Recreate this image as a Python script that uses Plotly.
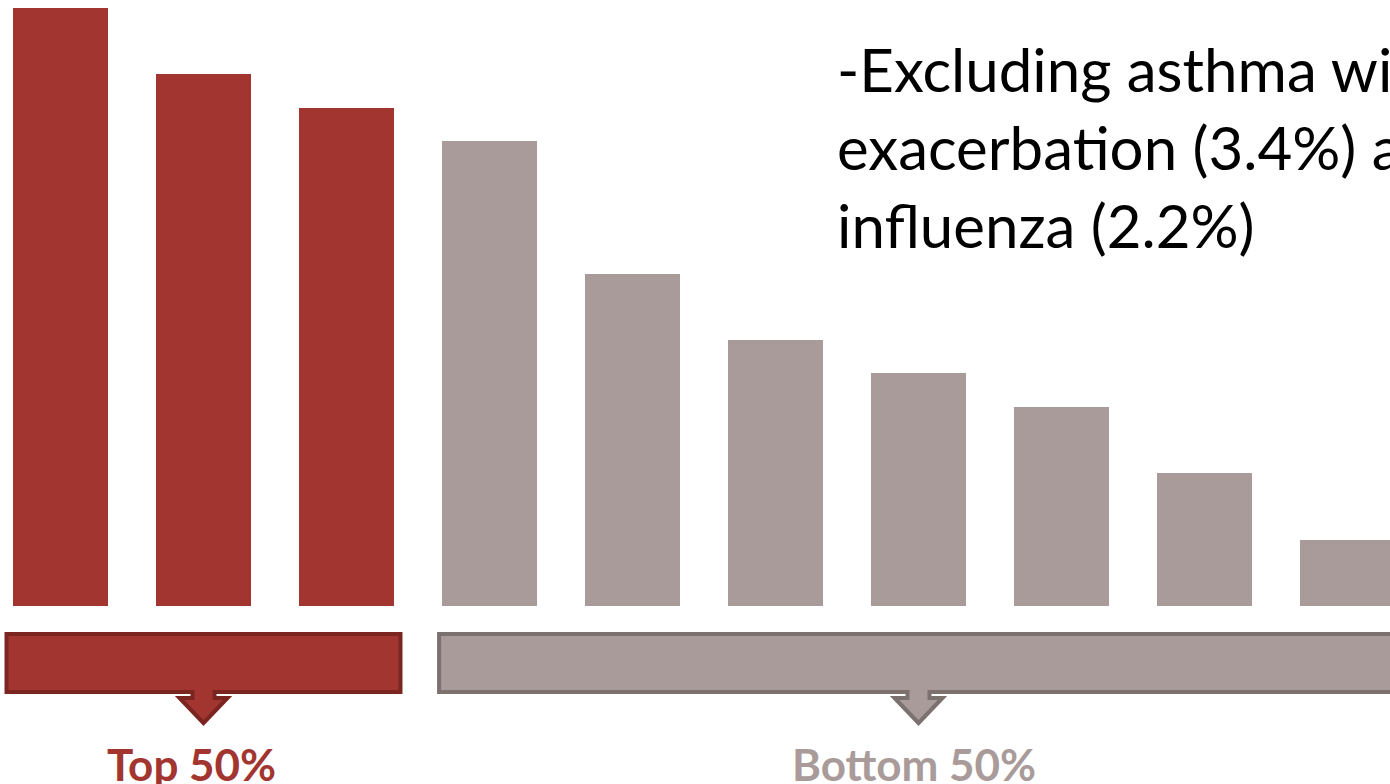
import plotly.graph_objects as go

# bar heights (relative share)
values = [18, 16, 15, 14, 10, 8, 7, 6, 4, 2]
groups = ["top", "top", "top", "bottom", "bottom", "bottom", "bottom", "bottom", "bottom", "bottom"]
group_labels = {"top": "Top 50%", "bottom": "Bottom 50%"}
note_lines = ["-Excluding asthma with", "exacerbation (3.4%) and", "influenza (2.2%)"]

W, H = 1390, 784
FONT = "Lato, 'Open Sans', sans-serif"

colors = {
    "top": dict(fill="#A33530", edge="#7B2521"),
    "bottom": dict(fill="#A89B9A", edge="#7B716F"),
}


def py(pix):
    # pixel row -> paper fraction
    return 1 - pix / H


x = list(range(len(values)))
fig = go.Figure()
fig.add_trace(
    go.Bar(
        x=x,
        y=values,
        width=0.665,
        marker=dict(color=[colors[g]["fill"] for g in groups], line=dict(width=0)),
        showlegend=False,
        hoverinfo="skip",
    )
)

# callout bracket with a down arrow under each group
shapes = []
annotations = []
for g in ["top", "bottom"]:
    idx = [i for i, gg in enumerate(groups) if gg == g]
    pad = 0.045 if g == "top" else 0.02
    x0 = min(idx) - 0.665 / 2 - pad
    x1 = max(idx) + 0.665 / 2 + pad
    c = (min(idx) + max(idx)) / 2
    sw, hw = 0.077, 0.168
    top, bot, neck, tip = py(634), py(692), py(698), py(723)
    path = (
        f"M {x0},{top} L {x1},{top} L {x1},{bot} L {c + sw},{bot} L {c + sw},{neck} "
        f"L {c + hw},{neck} L {c},{tip} L {c - hw},{neck} L {c - sw},{neck} "
        f"L {c - sw},{bot} L {x0},{bot} Z"
    )
    shapes.append(dict(
        type="path", path=path, xref="x", yref="paper",
        fillcolor=colors[g]["fill"], line=dict(color=colors[g]["edge"], width=4),
        layer="above",
    ))
    annotations.append(dict(
        x=c, y=py(764), xref="x", yref="paper",
        xshift=-12 if g == "top" else -5,
        text=f"<b>{group_labels[g]}</b>", showarrow=False,
        xanchor="center", yanchor="middle",
        font=dict(family=FONT, size=44, color=colors[g]["fill"]),
    ))

annotations.append(dict(
    x=835 / W, y=py(31), xref="paper", yref="paper",
    text="<br>".join(note_lines), showarrow=False, align="left",
    xanchor="left", yanchor="top",
    font=dict(family=FONT, size=60, color="#000000"),
))

fig.update_layout(
    width=W,
    height=H,
    margin=dict(l=0, r=0, t=0, b=0),
    paper_bgcolor="#FFFFFF",
    plot_bgcolor="#FFFFFF",
    xaxis=dict(
        range=[-60.5 / 143, (W - 60.5) / 143],
        domain=[0, 1],
        visible=False,
        fixedrange=True,
    ),
    yaxis=dict(
        range=[0, 18],
        domain=[py(606), py(8)],
        visible=False,
        fixedrange=True,
    ),
    shapes=shapes,
    annotations=annotations,
    bargap=0,
)

# drop the page margin so the figure sits at the window's corner
fig.write_html(
    "out.html",
    config=dict(displayModeBar=False),
    post_script="document.body.style.margin='0';document.body.style.overflow='hidden';",
)
